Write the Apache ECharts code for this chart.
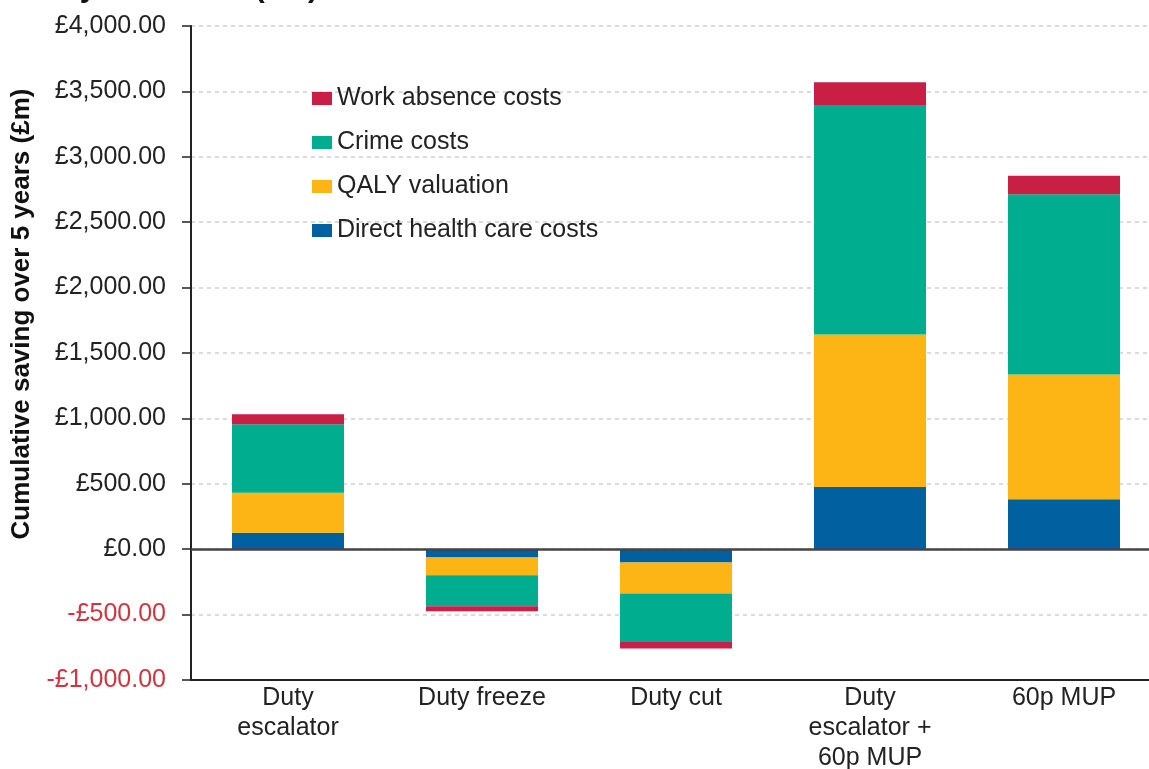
<!DOCTYPE html>
<html>
<head>
<meta charset="utf-8">
<script src="https://cdn.jsdelivr.net/npm/echarts@6/dist/echarts.min.js"></script>
<style>
html,body{margin:0;padding:0;background:#fff;}
#chart{width:1149px;height:769px;}
</style>
</head>
<body>
<div id="chart"></div>
<script>
const categories = ['Duty\nescalator', 'Duty freeze', 'Duty cut', 'Duty\nescalator +\n60p MUP', '60p MUP'];
const directHealth = [125, -63, -102, 476, 382];
const qaly = [306, -136, -237, 1166, 954];
const crime = [525, -237, -370, 1754, 1377];
const workAbsence = [76, -38, -51, 173, 142];
const yTicks = { min: -1000, max: 4000, interval: 500 };

const FONT = 'Liberation Sans, Arial, sans-serif';
function fmt(v) {
  const neg = v < 0;
  const s = Math.abs(v).toFixed(2).replace(/\B(?=(\d{3})+(?!\d))/g, ',');
  return (neg ? '-£' : '£') + s;
}

const chart = echarts.init(document.getElementById('chart'), null, { renderer: 'canvas' });
const barW = 112;
function bar(name, data, color, extra) {
  return Object.assign({
    name, type: 'bar', stack: 'total', data, barWidth: barW,
    itemStyle: { color }, emphasis: { disabled: true }
  }, extra || {});
}
chart.setOption({
  animation: false,
  backgroundColor: '#ffffff',
  grid: { left: 191, top: 26, width: 970, height: 654, containLabel: false, outerBoundsMode: 'none' },
  legend: {
    orient: 'vertical', left: 312, top: 86, itemGap: 19, padding: 0,
    itemWidth: 20, itemHeight: 13, itemGap: 19,
    data: ['Work absence costs', 'Crime costs', 'QALY valuation', 'Direct health care costs'],
    textStyle: { fontFamily: FONT, fontSize: 25, color: '#222' },
    icon: 'rect'
  },
  xAxis: {
    type: 'category', data: categories,
    axisLine: { onZero: false, lineStyle: { color: '#222', width: 2 } },
    axisTick: { show: false },
    axisLabel: { fontFamily: FONT, fontSize: 25, color: '#222', margin: 3, lineHeight: 30, interval: 0 }
  },
  yAxis: {
    type: 'value', min: yTicks.min, max: yTicks.max, interval: yTicks.interval,
    axisLine: { show: true, lineStyle: { color: '#222', width: 2 } },
    axisTick: { show: true, length: 9, lineStyle: { color: '#222', width: 1.5 } },
    axisLabel: {
      fontFamily: FONT, fontSize: 25, margin: 25,
      formatter: fmt,
      color: function (v) { return Number(v) < 0 ? '#d0343f' : '#222'; }
    },
    splitLine: { show: true, lineStyle: { color: '#cfcfcf', type: [4, 4], width: 1.5 } }
  },
  graphic: [
    { type: 'text', x: 22, y: 314, rotation: Math.PI / 2, z: 10,
      style: { text: 'Cumulative saving over 5 years (£m)', fontFamily: FONT, fontSize: 26, fontWeight: 'bold', fill: '#111', align: 'center', verticalAlign: 'middle' } },
    { type: 'text', x: 8, y: 4, z: 10,
      style: { text: 'Policy outcomes (£m)', fontFamily: FONT, fontSize: 30, fontWeight: 'bold', fill: '#111', align: 'left', verticalAlign: 'bottom' } }
  ],
  series: [
    bar('Direct health care costs', directHealth, '#0060a0', {
      markLine: {
        silent: true, symbol: 'none', label: { show: false },
        lineStyle: { color: '#444', type: 'solid', width: 2.5 },
        data: [{ yAxis: 0 }]
      }
    }),
    bar('QALY valuation', qaly, '#fdb515'),
    bar('Crime costs', crime, '#00ad8e'),
    bar('Work absence costs', workAbsence, '#c91f45')
  ]
});
</script>
</body>
</html>
